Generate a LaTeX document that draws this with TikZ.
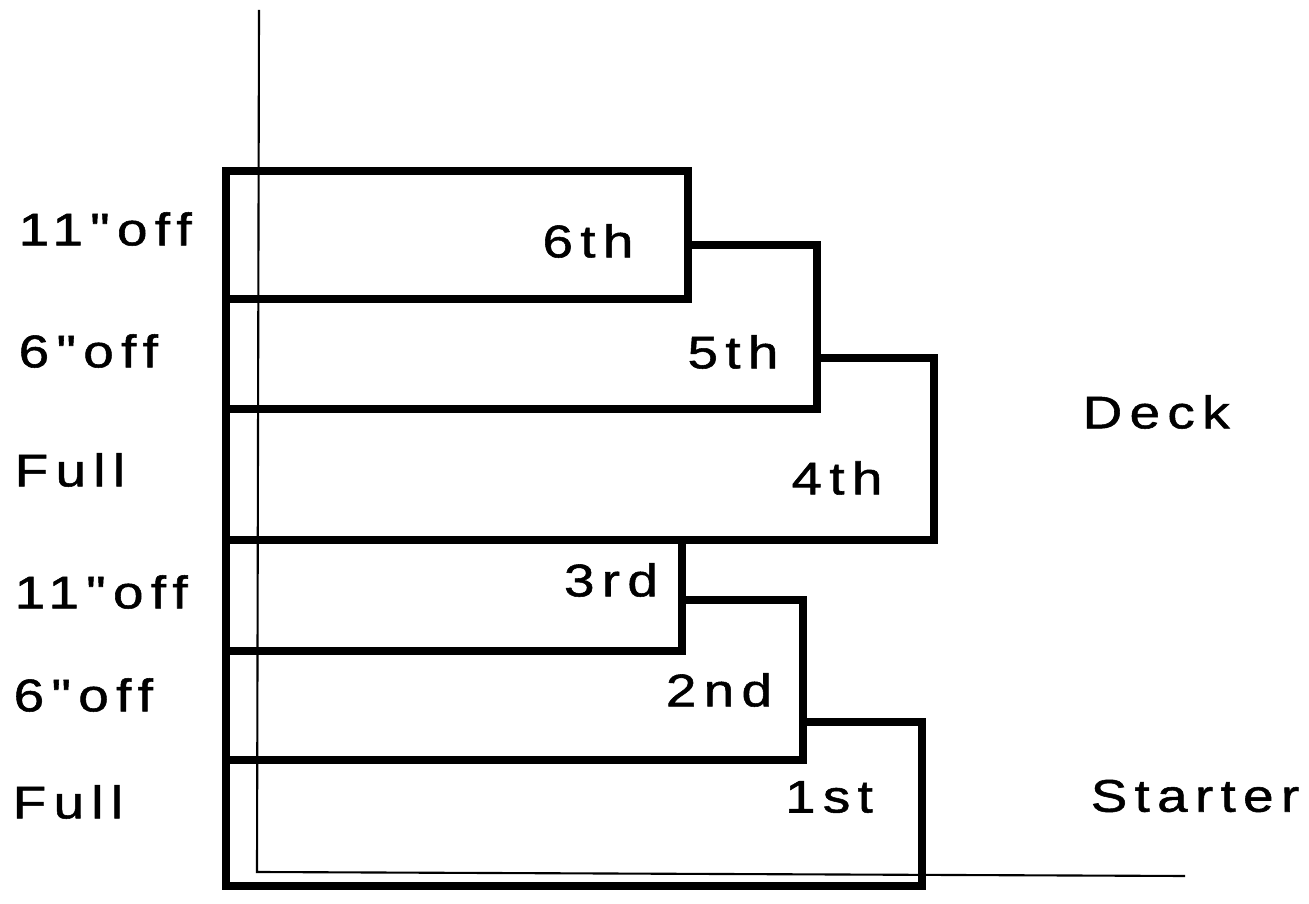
\documentclass[tikz,border=0pt]{standalone}
\usepackage{fontspec}
\newfontfamily\liftfont{Liberation Sans}[FakeStretch=1.2,LetterSpace=16,FakeBold=1.2]
\tikzset{lift/.style={line width=2.3pt, line join=miter},
  axisline/.style={line width=0.6pt},
  lbl/.style={inner sep=0pt, font=\liftfont\fontsize{13pt}{15pt}\selectfont}}
\begin{document}
\begin{tikzpicture}[x=0.01cm, y=-0.01cm]
    \useasboundingbox (0,0) rectangle (1309,904);
    % thin axis lines
    \coordinate (top) at (259,10); \coordinate (corner) at (257,872);
    \coordinate (right) at (1185,876);
    \draw[axisline] (top) -- (corner) -- (right);
    % outline of the lifts
    \draw[lift] (226,171) -| (688,245) -| (817,358) -| (934,540)
      -| (682,600) -| (803,722) -| (922,886) -- (226,886) -- cycle;
    \draw[lift] (226,299) -| (688,245); \draw[lift] (226,409) -| (817,358);
    \draw[lift] (226,540) -- (682,540); \draw[lift] (226,651) -| (682,600);
    \draw[lift] (226,760) -| (803,722);
    % lift numbers
    \node (six) at (588,241) [lbl] {6th}; \node (five) at (733,352) [lbl] {5th};
    \node (four) at (837,478) [lbl] {4th}; \node (three) at (611,580) [lbl] {3rd};
    \node (two) at (719,690) [lbl] {2nd}; \node (one) at (829,797) [lbl] {1st};
    % left side
    \node (offa) at (18,229) [lbl, anchor=west] {11"off};
    \node (offb) at (18,351) [lbl, anchor=west] {6"off};
    \node (fulla) at (14,470) [lbl, anchor=west] {Full};
    \node (offc) at (14,592) [lbl, anchor=west] {11"off};
    \node (offd) at (13,695) [lbl, anchor=west] {6"off};
    \node (fullb) at (12,802) [lbl, anchor=west] {Full};
    % right side
    \node (deck) at (1082,412) [lbl, anchor=west] {Deck};
    \node (starter) at (1090,796) [lbl, anchor=west] {Starter};
  \end{tikzpicture}
\end{document}
